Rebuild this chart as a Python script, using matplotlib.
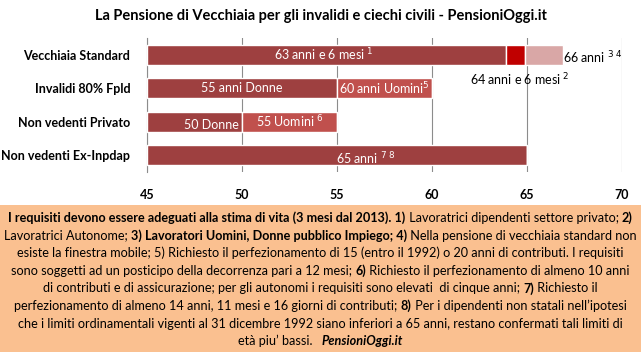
import matplotlib.pyplot as plt
from matplotlib.patches import Rectangle

plt.rcParams['font.family'] = ['Lato', 'DejaVu Sans']

# data
categories = ['Vecchiaia Standard', 'Invalidi 80% Fpld', 'Non vedenti Privato', 'Non vedenti Ex-Inpdap']
start = 45
end_1 = [63.9, 55, 50, 65]
end_2 = [64.9, 60, 55, 65]
end_3 = [66.9, 60, 55, 65]
ticks = [45, 50, 55, 60, 65, 70]

title = 'La Pensione di Vecchiaia per gli invalidi e ciechi civili - PensioniOggi.it'

# bar labels: (row, x, text, color, dy)
bar_labels = [
    (0, 54.3, r'63 anni e 6 mesi $^{1}$', 'white', 0.0),
    (0, 66.9, r'66 anni $^{3\ 4}$', 'black', 0.1),
    (0, 64.6, r'64 anni e 6 mesi $^{2}$', 'black', 0.75),
    (1, 50.0, '55 anni Donne', 'white', 0.0),
    (1, 57.5, r'60 anni Uomini$^{5}$', 'white', 0.0),
    (2, 48.4, '50 Donne', 'white', 0.1),
    (2, 52.5, r'55 Uomini $^{6}$', 'white', 0.0),
    (3, 56.5, r'65 anni $^{7\ 8}$', 'white', 0.1),
]

# note box lines: list of (text, style) segments
note_lines = [
    [('I requisiti devono essere adeguati alla stima di vita (3 mesi dal 2013). 1)', 'b'),
     (' Lavoratrici dipendenti settore privato; ', 'n'), ('2)', 'b')],
    [('Lavoratrici Autonome; ', 'n'), ('3) Lavoratori Uomini, Donne pubblico Impiego; 4)', 'b'),
     (' Nella pensione di vecchiaia standard non', 'n')],
    [('esiste la finestra mobile; 5) Richiesto il perfezionamento di 15 (entro il 1992) o 20 anni di contributi. I requisiti', 'n')],
    [('sono soggetti ad un posticipo della decorrenza pari a 12 mesi; ', 'n'), ('6)', 'b'),
     (' Richiesto il perfezionamento di almeno 10 anni', 'n')],
    [('di contributi e di assicurazione; per gli autonomi i requisiti sono elevati  di cinque anni; ', 'n'),
     ('7)', 'b'), (' Richiesto il', 'n')],
    [('perfezionamento di almeno 14 anni, 11 mesi e 16 giorni di contributi; ', 'n'), ('8)', 'b'),
     (' Per i dipendenti non statali nell\u2019ipotesi', 'n')],
    [('che i limiti ordinamentali vigenti al 31 dicembre 1992 siano inferiori a 65 anni, restano confermati tali limiti di', 'n')],
    [('et\u00e0 piu\u2019 bassi.   ', 'n'), ('PensioniOggi.it', 'bi')],
]

dark = '#9E4040'
mid = '#C0504D'
red = '#C00000'
pink = '#D9A7A6'

W, H = 641, 352
fig = plt.figure(figsize=(W / 100, H / 100), dpi=100)
ax = fig.add_axes([147 / W, 1 - 172 / H, 475 / W, 134 / H])

rows = list(range(len(categories)))
h = 0.6
ax.barh(rows, [e - start for e in end_1], left=start, height=h, color=dark,
        edgecolor='white', linewidth=1, zorder=3)
seg2_cols = [red] + [mid] * 3
ax.barh(rows, [b - a for a, b in zip(end_1, end_2)], left=end_1, height=h,
        color=seg2_cols, edgecolor='white', linewidth=1, zorder=3)
ax.barh(rows, [b - a for a, b in zip(end_2, end_3)], left=end_2, height=h,
        color=pink, edgecolor='white', linewidth=1, zorder=3)

for r, x, t, c, dy in bar_labels:
    ha = 'left' if t.startswith('66') else 'center'
    ax.text(x, r + dy, t, color=c, ha=ha, va='center', fontsize=9, zorder=4)

ax.set_xlim(45, 70)
ax.set_ylim(3.5, -0.5)
ax.set_xticks(ticks)
ax.set_yticks(rows)
ax.set_yticklabels(categories, fontsize=9, fontweight='bold')
ax.tick_params(axis='x', length=0, pad=12, labelsize=9)
ax.tick_params(axis='y', length=0, pad=12)
for lab in ax.get_xticklabels():
    lab.set_fontweight('bold')
ax.grid(axis='x', color='#8c8c8c', linewidth=0.8, zorder=0)
for s in ['top', 'right', 'bottom']:
    ax.spines[s].set_visible(False)
ax.spines['left'].set_color('#8c8c8c')
ax.spines['left'].set_linewidth(0.8)

fig.text(0.5, 1 - 16 / H, title, ha='center', va='center', fontsize=10.5, fontweight='bold')

# note box
fig.patches.append(Rectangle((0, 0), 1, 1 - 205 / H, transform=fig.transFigure,
                             facecolor='#FAC090', edgecolor='none', zorder=0))

renderer = fig.canvas.get_renderer()
fs = 9.1
y0 = 218
for i, line in enumerate(note_lines):
    y = 1 - (y0 + i * 17.6) / H
    objs = []
    for txt, st in line:
        t = fig.text(0, y, txt, fontsize=fs, va='center', ha='left',
                     fontweight='bold' if 'b' in st else 'normal',
                     fontstyle='italic' if 'i' in st else 'normal')
        objs.append(t)
    widths = [o.get_window_extent(renderer).width for o in objs]
    x = (W - sum(widths)) / 2
    for o, w in zip(objs, widths):
        o.set_x(x / W)
        x += w

fig.savefig('out.png', dpi=100)
